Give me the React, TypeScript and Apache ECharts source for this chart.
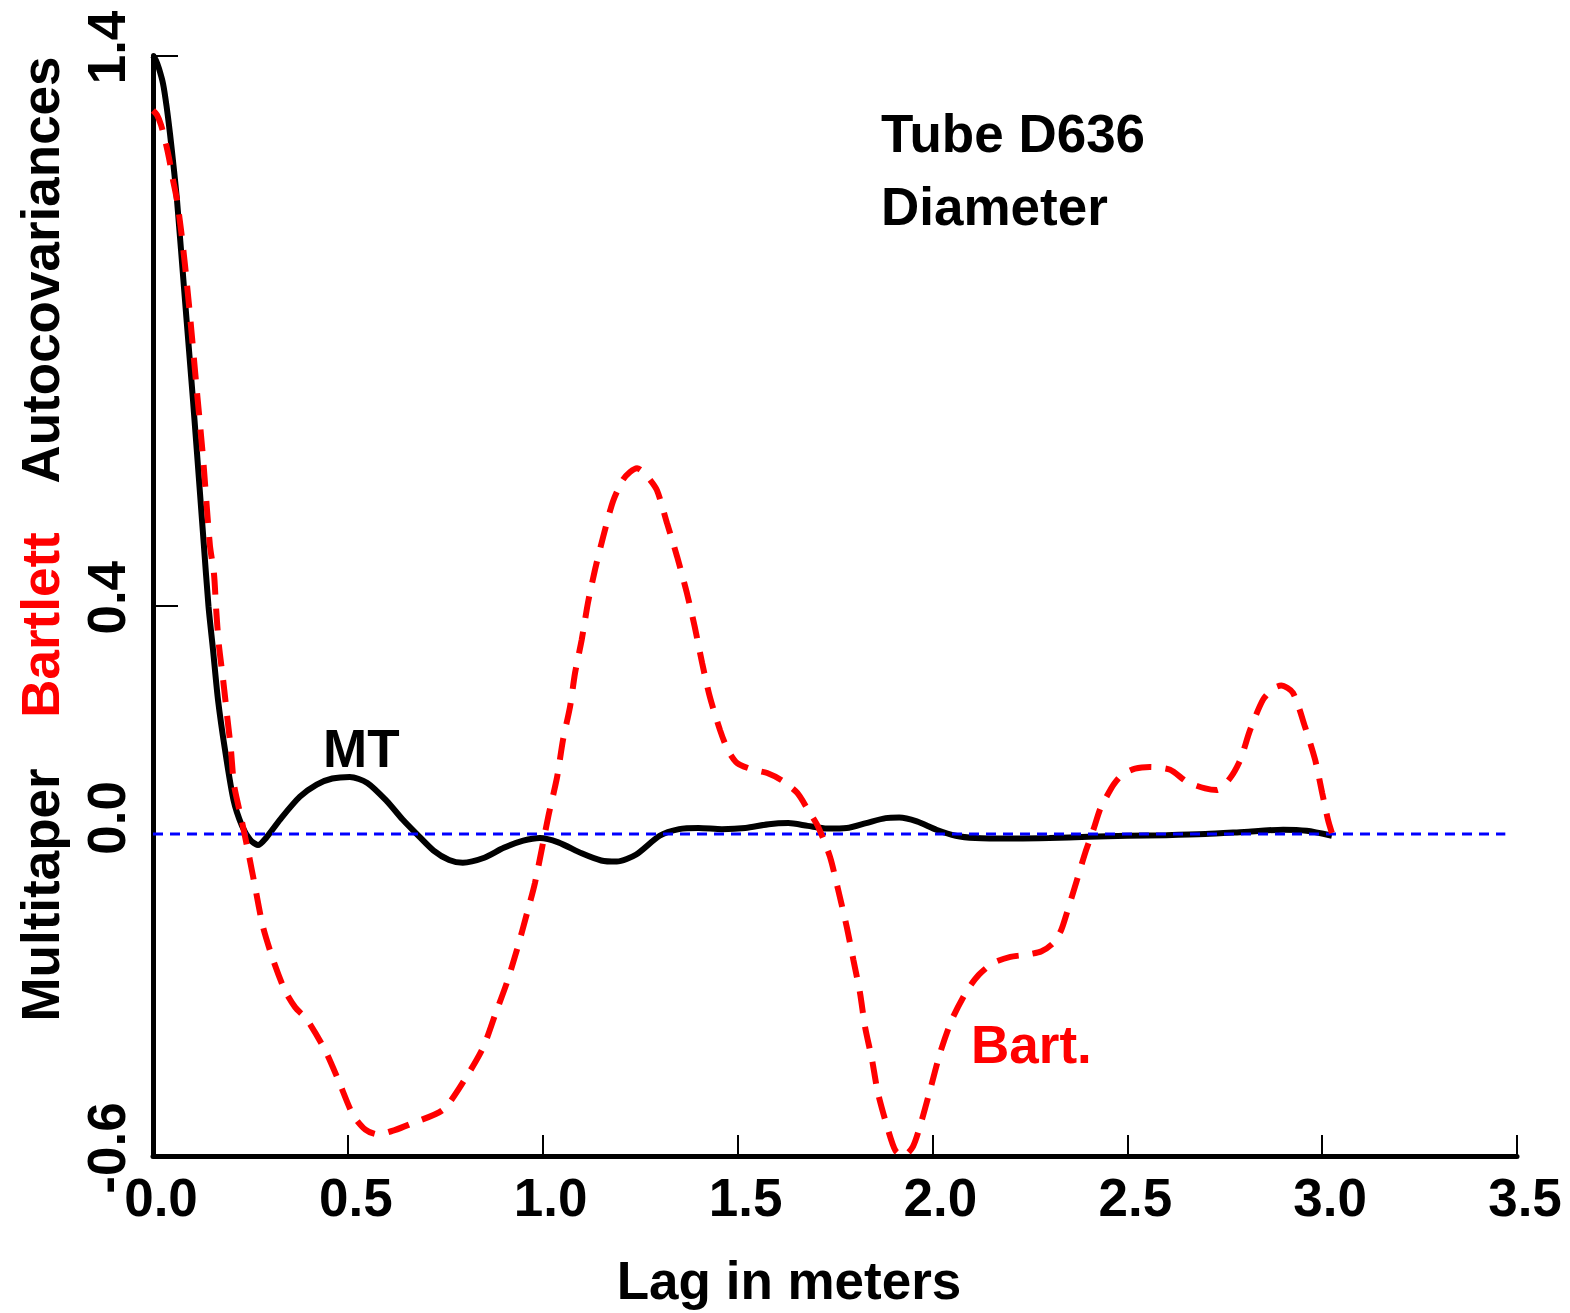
import React, { useEffect, useRef } from "react";
import * as echarts from "echarts";

const MT_X = [0, 0.0077, 0.0154, 0.0257, 0.0346, 0.0436, 0.0526, 0.0616, 0.0821, 0.1026, 0.1219, 0.1296, 0.1424, 0.154, 0.1668, 0.1848, 0.2066, 0.2284, 0.249, 0.2694, 0.29, 0.33, 0.377, 0.42, 0.46, 0.505, 0.55, 0.6, 0.64, 0.677, 0.72, 0.76, 0.795, 0.85, 0.9, 0.95, 0.993, 1.04, 1.1, 1.15, 1.19, 1.24, 1.3, 1.35, 1.4, 1.46, 1.52, 1.58, 1.63, 1.68, 1.73, 1.78, 1.83, 1.88, 1.915, 1.96, 2.01, 2.06, 2.11, 2.2, 2.3, 2.4, 2.5, 2.6, 2.7, 2.8, 2.9, 2.96, 3.025];
const MT_Y = [1.4, 1.391, 1.376, 1.349, 1.309, 1.258, 1.2, 1.137, 0.955, 0.774, 0.592, 0.519, 0.399, 0.32, 0.229, 0.138, 0.047, 0.0, -0.025, -0.035, -0.022, 0.015, 0.053, 0.075, 0.086, 0.089, 0.078, 0.045, 0.012, -0.015, -0.045, -0.062, -0.067, -0.058, -0.04, -0.027, -0.022, -0.03, -0.05, -0.063, -0.065, -0.052, -0.018, -0.006, -0.004, -0.006, -0.004, 0.003, 0.005, 0.0, -0.005, -0.004, 0.005, 0.014, 0.015, 0.008, -0.007, -0.018, -0.022, -0.023, -0.022, -0.02, -0.018, -0.017, -0.015, -0.011, -0.007, -0.009, -0.018];

const BART_X = [0, 0.0103, 0.0205, 0.0308, 0.041, 0.0513, 0.0616, 0.0719, 0.0821, 0.0949, 0.11, 0.128, 0.146, 0.1565, 0.162, 0.169, 0.18, 0.19, 0.2, 0.208, 0.226, 0.246, 0.262, 0.282, 0.308, 0.339, 0.365, 0.395, 0.441, 0.475, 0.513, 0.545, 0.577, 0.62, 0.667, 0.744, 0.8, 0.847, 0.878, 0.908, 0.934, 0.96, 0.98, 1.014, 1.037, 1.052, 1.07, 1.083, 1.1, 1.116, 1.134, 1.155, 1.18, 1.205, 1.224, 1.242, 1.268, 1.293, 1.319, 1.345, 1.37, 1.39, 1.409, 1.429, 1.455, 1.475, 1.499, 1.54, 1.576, 1.615, 1.653, 1.68, 1.707, 1.737, 1.758, 1.78, 1.797, 1.814, 1.827, 1.845, 1.86, 1.886, 1.905, 1.925, 1.95, 1.973, 1.994, 2.02, 2.05, 2.09, 2.12, 2.156, 2.2, 2.243, 2.28, 2.31, 2.33, 2.345, 2.371, 2.392, 2.413, 2.43, 2.443, 2.465, 2.487, 2.52, 2.558, 2.61, 2.653, 2.7, 2.73, 2.764, 2.79, 2.815, 2.848, 2.875, 2.895, 2.925, 2.956, 2.982, 3.0, 3.015, 3.025];
const BART_Y = [1.3, 1.292, 1.274, 1.247, 1.214, 1.174, 1.137, 1.083, 1.019, 0.928, 0.81, 0.672, 0.51, 0.458, 0.394, 0.329, 0.265, 0.201, 0.138, 0.074, 0.015, -0.053, -0.111, -0.183, -0.243, -0.3, -0.33, -0.352, -0.407, -0.461, -0.525, -0.552, -0.561, -0.553, -0.54, -0.516, -0.461, -0.403, -0.343, -0.285, -0.225, -0.158, -0.104, 0.016, 0.089, 0.156, 0.216, 0.278, 0.338, 0.405, 0.465, 0.525, 0.589, 0.628, 0.643, 0.65, 0.635, 0.61, 0.55, 0.489, 0.423, 0.362, 0.296, 0.234, 0.174, 0.138, 0.114, 0.102, 0.096, 0.082, 0.06, 0.03, -0.002, -0.056, -0.116, -0.183, -0.243, -0.303, -0.365, -0.425, -0.485, -0.552, -0.59, -0.6, -0.583, -0.534, -0.48, -0.412, -0.352, -0.298, -0.27, -0.249, -0.238, -0.234, -0.228, -0.213, -0.19, -0.158, -0.098, -0.049, -0.007, 0.03, 0.048, 0.075, 0.093, 0.104, 0.107, 0.102, 0.08, 0.068, 0.065, 0.087, 0.12, 0.174, 0.229, 0.25, 0.255, 0.242, 0.18, 0.12, 0.06, 0.011, -0.013];

const ZERO_X = [0, 3.47];
const ZERO_Y = [-0.015, -0.015];

const Y_LABELS = [-0.6, 0.0, 0.4, 1.4];
const Y_TICKS = [0.4, 1.4];

const FONT = "'Liberation Sans', Arial, Helvetica, sans-serif";

const zip = (xs: number[], ys: number[]) => xs.map((x, i) => [x, ys[i]]);

export default function App() {
  const ref = useRef<HTMLDivElement>(null);
  useEffect(() => {
    if (!ref.current) return;
    const chart = echarts.init(ref.current, undefined, { renderer: "svg" });
    const bold = { fontFamily: FONT, fontWeight: "bold" as const, fontSize: 53 };
    chart.setOption({
      animation: false,
      backgroundColor: "#ffffff",
      grid: { left: 153, right: 53, top: 55.5, bottom: 157, containLabel: false },
      xAxis: {
        type: "value",
        min: 0,
        max: 3.5,
        interval: 0.5,
        splitLine: { show: false },
        axisLine: { show: true, onZero: false, lineStyle: { color: "#000", width: 5 } },
        axisTick: { show: true, inside: true, length: 21, lineStyle: { color: "#000", width: 2 } },
        axisLabel: {
          ...bold,
          color: "#000",
          margin: 15,
          padding: [0, 0, 0, 16],
          formatter: (v: number) => v.toFixed(1),
        },
        name: "Lag in meters",
        nameLocation: "middle",
        nameGap: 98,
        nameTextStyle: { ...bold, color: "#000", padding: [0, 92, 0, 0] },
      },
      yAxis: {
        type: "value",
        min: -0.6,
        max: 1.4,
        splitLine: { show: false },
        axisLine: { show: true, onZero: false, lineStyle: { color: "#000", width: 5 } },
        axisTick: { show: true, inside: true, length: 25, customValues: Y_TICKS, lineStyle: { color: "#000", width: 2 } },
        axisLabel: {
          ...bold,
          color: "#000",
          rotate: 90,
          margin: 20,
          padding: [0, 0, 0, 16],
          customValues: Y_LABELS,
          formatter: (v: number) => v.toFixed(1),
        },
      },
      graphic: [
        { type: "text", x: 40, y: 895, rotation: Math.PI / 2, style: { text: "Multitaper", ...bold, fill: "#000", align: "center", verticalAlign: "middle" } },
        { type: "text", x: 40, y: 625, rotation: Math.PI / 2, style: { text: "Bartlett", ...bold, fill: "#ff0000", align: "center", verticalAlign: "middle" } },
        { type: "text", x: 40, y: 270, rotation: Math.PI / 2, style: { text: "Autocovariances", ...bold, fill: "#000", align: "center", verticalAlign: "middle" } },
        { type: "text", x: 881, y: 133, style: { text: "Tube D636", ...bold, fill: "#000", align: "left", verticalAlign: "middle" } },
        { type: "text", x: 881, y: 206, style: { text: "Diameter", ...bold, fill: "#000", align: "left", verticalAlign: "middle" } },
        { type: "text", x: 323, y: 748, style: { text: "MT", ...bold, fill: "#000", align: "left", verticalAlign: "middle" } },
        { type: "text", x: 971, y: 1044, style: { text: "Bart.", ...bold, fill: "#ff0000", align: "left", verticalAlign: "middle" } },
      ],
      series: [
        {
          name: "Multitaper",
          type: "line",
          data: zip(MT_X, MT_Y),
          showSymbol: false,
          smooth: 0.25,
          lineStyle: { color: "#000", width: 6 },
          z: 2,
        },
        {
          name: "Zero",
          type: "line",
          data: zip(ZERO_X, ZERO_Y),
          showSymbol: false,
          lineStyle: { color: "#0000ff", width: 3, type: [10, 7] },
          z: 3,
        },
        {
          name: "Bartlett",
          type: "line",
          data: zip(BART_X, BART_Y),
          showSymbol: false,
          smooth: 0.25,
          lineStyle: { color: "#ff0000", width: 6, type: [22, 14] },
          z: 4,
        },
      ],
    });
    return () => chart.dispose();
  }, []);
  return (
    <div
      ref={ref}
      style={{ position: "absolute", left: 0, top: 0, width: 1570, height: 1313 }}
    />
  );
}
